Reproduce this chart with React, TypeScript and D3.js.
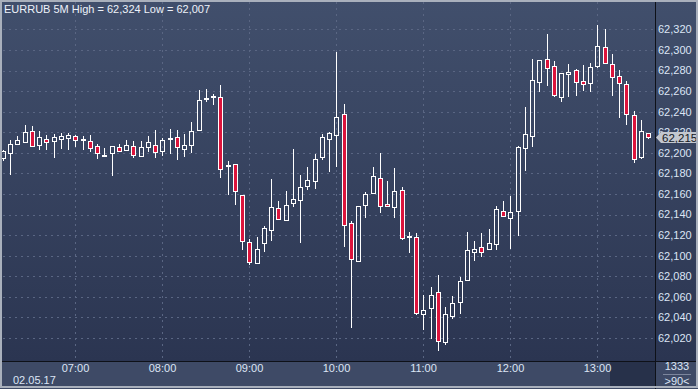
import React from 'react'
import * as d3 from 'd3'

// EURRUB 5M candles, 06:10 .. 13:35
const opens = [62.1945, 62.1994, 62.2090, 62.2106, 62.2213, 62.2081, 62.2139, 62.2116, 62.2136, 62.2148,
  62.2161, 62.2131, 62.2119, 62.2071, 62.1974, 62.1994, 62.2055, 62.2029, 62.2065, 62.1971,
  62.2061, 62.2081, 62.2019, 62.2139, 62.2150, 62.2042, 62.2081, 62.2226, 62.2523, 62.2555,
  62.2539, 62.1877, 62.1890, 62.1590, 62.1135, 62.0932, 62.1126, 62.1248, 62.1464, 62.1348,
  62.1510, 62.1542, 62.1677, 62.1726, 62.1958, 62.2139, 62.2178, 62.2375, 62.1317, 62.0945,
  62.1489, 62.1605, 62.1754, 62.1502, 62.1473, 62.1640, 62.1186, 62.1182, 62.0434, 62.0492,
  62.0648, 62.0158, 62.0411, 62.0547, 62.0764, 62.1033, 62.1085, 62.1062, 62.1114, 62.1435,
  62.1364, 62.1435, 62.2047, 62.2160, 62.2686, 62.2909, 62.2841, 62.2538, 62.2764, 62.2803,
  62.2696, 62.2677, 62.2841, 62.3026, 62.2861, 62.2744, 62.2667, 62.2366, 62.1959, 62.2192]
const highs = [62.2030, 62.2123, 62.2161, 62.2268, 62.2258, 62.2210, 62.2171, 62.2181, 62.2194, 62.2194,
  62.2171, 62.2161, 62.2171, 62.2090, 62.2048, 62.2068, 62.2090, 62.2123, 62.2113, 62.2113,
  62.2161, 62.2219, 62.2148, 62.2229, 62.2223, 62.2184, 62.2300, 62.2610, 62.2619, 62.2568,
  62.2658, 62.1923, 62.1892, 62.1592, 62.1164, 62.1177, 62.1287, 62.1748, 62.1535, 62.1632,
  62.2039, 62.1784, 62.1861, 62.1987, 62.2181, 62.2203, 62.2981, 62.2476, 62.1334, 62.1485,
  62.1618, 62.1864, 62.2000, 62.1728, 62.1854, 62.1670, 62.1233, 62.1220, 62.0620, 62.0696,
  62.0813, 62.0502, 62.0612, 62.0797, 62.1234, 62.1147, 62.1224, 62.1263, 62.1487, 62.1536,
  62.1581, 62.2070, 62.2444, 62.2909, 62.2903, 62.3155, 62.2890, 62.2777, 62.2864, 62.2812,
  62.2854, 62.2870, 62.3242, 62.3203, 62.2961, 62.2803, 62.2696, 62.2405, 62.2321, 62.2195]
const lows = [62.1920, 62.1784, 62.2087, 62.2097, 62.2058, 62.2026, 62.2026, 62.1948, 62.2042, 62.2026,
  62.2058, 62.2026, 62.2010, 62.1942, 62.1968, 62.1777, 62.2006, 62.2026, 62.1952, 62.1971,
  62.2010, 62.1952, 62.1971, 62.1987, 62.1932, 62.1955, 62.1994, 62.2223, 62.2497, 62.2468,
  62.1752, 62.1587, 62.1490, 62.1058, 62.0913, 62.0930, 62.1035, 62.1142, 62.1355, 62.1345,
  62.1471, 62.1126, 62.1635, 62.1645, 62.1935, 62.1810, 62.1858, 62.1081, 62.0295, 62.0942,
  62.1363, 62.1603, 62.1411, 62.1480, 62.1363, 62.1152, 62.1023, 62.0422, 62.0277, 62.0187,
  62.0071, 62.0129, 62.0388, 62.0437, 62.0760, 62.0946, 62.0985, 62.1053, 62.1053, 62.1374,
  62.1062, 62.1189, 62.1820, 62.2053, 62.2596, 62.2654, 62.2547, 62.2499, 62.2538, 62.2557,
  62.2606, 62.2596, 62.2828, 62.2868, 62.2557, 62.2334, 62.2266, 62.1898, 62.1940, 62.2134]
const closes = [62.2016, 62.2084, 62.2129, 62.2206, 62.2068, 62.2152, 62.2106, 62.2152, 62.2161, 62.2171,
  62.2129, 62.2136, 62.2048, 62.1994, 62.1978, 62.2065, 62.2016, 62.2074, 62.1981, 62.2052,
  62.2103, 62.2010, 62.2129, 62.2142, 62.2060, 62.2074, 62.2210, 62.2510, 62.2532, 62.2548,
  62.1842, 62.1881, 62.1629, 62.1145, 62.0939, 62.1068, 62.1271, 62.1477, 62.1358, 62.1493,
  62.1552, 62.1668, 62.1735, 62.1939, 62.2152, 62.2192, 62.2346, 62.1295, 62.0965, 62.1482,
  62.1599, 62.1774, 62.1482, 62.1482, 62.1628, 62.1170, 62.1188, 62.0444, 62.0473, 62.0618,
  62.0171, 62.0434, 62.0541, 62.0755, 62.1056, 62.1066, 62.1037, 62.1124, 62.1455, 62.1384,
  62.1425, 62.2058, 62.2182, 62.2706, 62.2900, 62.2822, 62.2560, 62.2774, 62.2783, 62.2686,
  62.2667, 62.2832, 62.3035, 62.2870, 62.2735, 62.2677, 62.2376, 62.1940, 62.2211, 62.2153]

const hourLabels = ['07:00', '08:00', '09:00', '10:00', '11:00', '12:00', '13:00']
const hourIndex = [10, 22, 34, 46, 58, 70, 82]
const priceTicks = [62.02, 62.04, 62.06, 62.08, 62.1, 62.12, 62.14, 62.16, 62.18, 62.2, 62.22, 62.24, 62.26, 62.28, 62.3, 62.32]
const lastPrice = 62.215

const W = 698
const H = 389
const plotRight = 655
const plotBottom = 361
const FONT = '"Liberation Sans", Arial, sans-serif'
const RED = '#dc143c'
const LABEL = '#dce5f5'

const fmt = (v: number) => d3.format('.3f')(v).replace('.', ',')

export default function App() {
  const x = d3.scaleLinear().domain([0, 89]).range([2.8, 648.05])
  const y = d3.scaleLinear().domain([62.02, 62.32]).range([338, 29.4])
  const py = (v: number) => Math.round(y(v)) + 0.5

  const candles = opens.map((o, i) => ({ o, h: highs[i], l: lows[i], c: closes[i], i }))

  return (
    <svg width={W} height={H} style={{ position: 'absolute', left: 0, top: 0 }} fontFamily={FONT}>
      <defs>
        <linearGradient id="bg" x1="0" y1="0" x2="0" y2="1">
          <stop offset="0" stopColor="#414f6c" />
          <stop offset="1" stopColor="#2b3551" />
        </linearGradient>
        <clipPath id="plot">
          <rect x={2} y={2} width={plotRight - 2} height={plotBottom - 2} />
        </clipPath>
      </defs>

      <rect x={0} y={0} width={W} height={plotBottom} fill="url(#bg)" />
      <rect x={0} y={plotBottom} width={W} height={H - plotBottom} fill="#3e4a66" />
      <rect x={610} y={plotBottom + 1} width={plotRight - 610} height={25} fill="#27314a" />

      {/* grid */}
      <g stroke="#5a6683" strokeWidth={1} strokeDasharray="2,4">
        {priceTicks.map(t => (
          <line key={t} x1={3} x2={plotRight} y1={py(t)} y2={py(t)} />
        ))}
        {hourIndex.map(i => (
          <line key={i} x1={Math.round(x(i)) + 0.5} x2={Math.round(x(i)) + 0.5} y1={2} y2={plotBottom} />
        ))}
      </g>

      {/* candles */}
      <g clipPath="url(#plot)">
        {candles.map(d => {
          const cx = Math.round(x(d.i))
          const up = d.c >= d.o
          let top = Math.round(y(Math.max(d.o, d.c)))
          let bot = Math.round(y(Math.min(d.o, d.c)))
          if (bot - top < 1) bot = top + 1
          const hi = Math.round(y(d.h))
          const lo = Math.round(y(d.l))
          return (
            <g key={d.i}>
              {hi < top && <line x1={cx + 0.5} x2={cx + 0.5} y1={hi} y2={top} stroke="#fff" />}
              {lo > bot && <line x1={cx + 0.5} x2={cx + 0.5} y1={bot} y2={lo} stroke="#fff" />}
              <rect x={cx - 1.5} y={top + 0.5} width={4} height={bot - top}
                fill={up ? 'none' : RED} stroke="#fff" strokeWidth={1} />
            </g>
          )
        })}
      </g>

      {/* separators */}
      <line x1={plotRight + 0.5} x2={plotRight + 0.5} y1={0} y2={H} stroke="#0e1118" />
      <line x1={0} x2={W} y1={plotBottom + 0.5} y2={plotBottom + 0.5} stroke="#0e1118" />

      {/* price axis */}
      <g fontSize={11} fill={LABEL}>
        {priceTicks.map(t => (
          <text key={t} x={658} y={y(t)} dy="0.35em">{fmt(t)}</text>
        ))}
      </g>

      {/* current price marker */}
      <g>
        <path d={`M${plotRight + 1},${y(lastPrice)} L${661},${y(lastPrice) - 5.5} L${698},${y(lastPrice) - 5.5} L${698},${y(lastPrice) + 5.5} L${661},${y(lastPrice) + 5.5} Z`}
          fill="#c3c7cf" />
        <text x={662} y={y(lastPrice)} dy="0.36em" fontSize={11.5} fill="#141824">{fmt(lastPrice)}</text>
      </g>

      {/* time axis */}
      <g fontSize={11} fill={LABEL} textAnchor="middle">
        {hourIndex.map((i, k) => (
          <text key={i} x={Math.round(x(i)) + 0.5} y={372}>{hourLabels[k]}</text>
        ))}
      </g>
      <text x={13} y={384} fontSize={11} fill={LABEL}>02.05.17</text>

      <text x={677} y={370} fontSize={11} fill={LABEL} textAnchor="middle">1333</text>
      <line x1={663} x2={691} y1={374.5} y2={374.5} stroke="#7c869c" />
      <text x={677} y={385} fontSize={11} fill={LABEL} textAnchor="middle">{'>90<'}</text>

      <text x={4} y={13} fontSize={11} fill="#eef2fa">EURRUB 5M High = 62,324 Low = 62,007</text>

      {/* frame */}
      <rect x={1} y={1} width={W - 2} height={H - 3} fill="none" stroke="#a9b0bc" strokeWidth={2} />
    </svg>
  )
}
